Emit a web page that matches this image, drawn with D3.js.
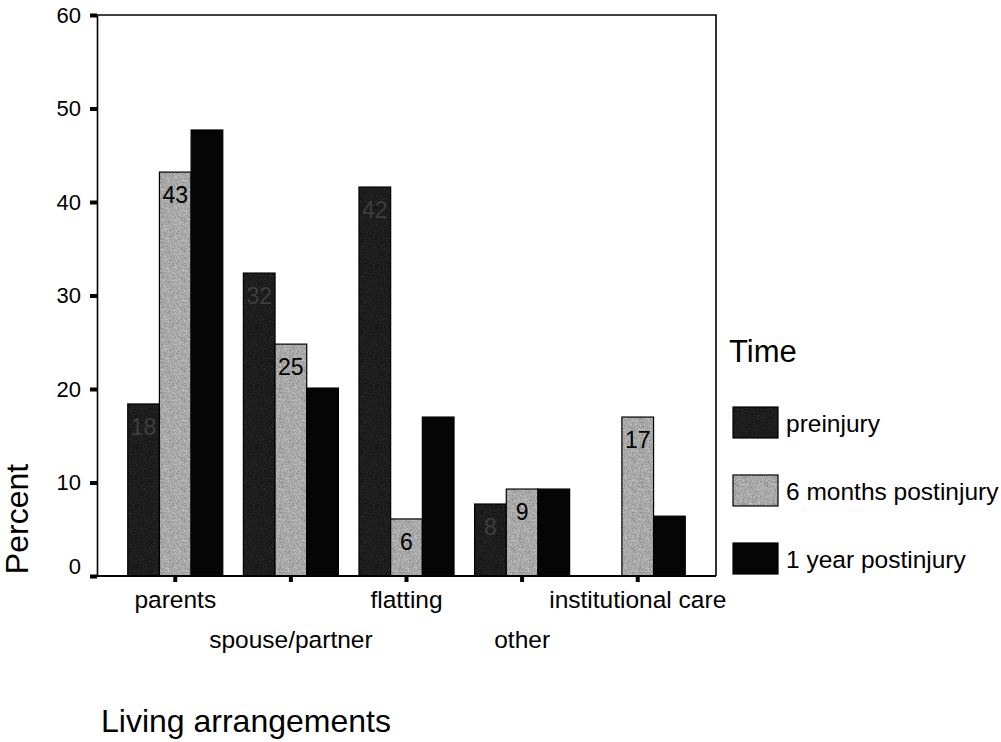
<!DOCTYPE html>
<html>
<head>
<meta charset="utf-8">
<script src="https://cdn.jsdelivr.net/npm/d3@7"></script>
<style>
  html, body { margin: 0; padding: 0; background: #fff; }
  svg { display: block; font-family: "Liberation Sans", Arial, Helvetica, sans-serif; }
</style>
</head>
<body>
<svg id="chart" width="1001" height="742"></svg>
<script>
// ---- data ----
const categories = ["parents", "spouse/partner", "flatting", "other", "institutional care"];
const seriesNames = ["preinjury", "6 months postinjury", "1 year postinjury"];
const preinjury = [18.4, 32.4, 41.6, 7.7, 0];
const sixMonths = [43.2, 24.8, 6.1, 9.3, 17.0];
const oneYear   = [47.7, 20.1, 17.0, 9.3, 6.4];
const yTicks = [0, 10, 20, 30, 40, 50, 60];
const seriesValues = [preinjury, sixMonths, oneYear];

// ---- styles ----
const fills = ["#1d1d1d", "#a8a8a8", "#050505"];
const labelFills = ["#3e3e3e", "#000000", null];

const svg = d3.select("#chart");

// textures
const defs = svg.append("defs");
function noisePattern(id, base, spread, seed) {
  const p = defs.append("pattern").attr("id", id).attr("patternUnits", "userSpaceOnUse")
    .attr("width", 30).attr("height", 30);
  p.append("rect").attr("width", 30).attr("height", 30).attr("fill", base);
  let s = seed;
  const rnd = () => { s = (s * 16807) % 2147483647; return (s - 1) / 2147483646; };
  for (let i = 0; i < 30; i++) for (let j = 0; j < 30; j++) {
    if (rnd() < 0.5) continue;
    const v = Math.round(d3.color(base).r + (rnd() - 0.5) * spread);
    const c = Math.max(0, Math.min(255, v));
    p.append("rect").attr("x", j).attr("y", i).attr("width", 1).attr("height", 1)
      .attr("fill", `rgb(${c},${c},${c})`);
  }
  return `url(#${id})`;
}
const patFills = [
  noisePattern("pat0", fills[0], 24, 7),
  noisePattern("pat1", fills[1], 60, 13),
  fills[2]
];

const mLeft = 97, mRight = 716, mTop = 15, mBottom = 576;

const x = d3.scaleBand().domain(categories).range([mLeft, mRight])
  .paddingInner(0.178).paddingOuter(0.266);
const xs = d3.scaleBand().domain(d3.range(seriesNames.length)).range([0, x.bandwidth()]).padding(0);
const y = d3.scaleLinear().domain([0, 60]).range([mBottom, mTop]);

// frame (top and right)
svg.append("path")
  .attr("d", `M${mLeft},${mTop}H${mRight}V${mBottom}`)
  .attr("fill", "none").attr("stroke", "#000").attr("stroke-width", 1.6);

// bars
const data = [];
categories.forEach((c, i) => seriesValues.forEach((vals, s) => data.push({ c, s, v: vals[i] })));

svg.append("g").selectAll("rect").data(data.filter(d => d.v > 0)).join("rect")
  .attr("x", d => x(d.c) + xs(d.s))
  .attr("y", d => y(d.v))
  .attr("width", xs.bandwidth())
  .attr("height", d => y(0) - y(d.v))
  .attr("fill", d => patFills[d.s])
  .attr("stroke", "#000").attr("stroke-width", 1.2);

// value labels (labels on the black series are invisible in the original)
svg.append("g").selectAll("text").data(data.filter(d => d.v > 0 && labelFills[d.s])).join("text")
  .attr("x", d => x(d.c) + xs(d.s) + xs.bandwidth() / 2)
  .attr("y", d => y(d.v) + 31)
  .attr("text-anchor", "middle")
  .attr("font-size", 23)
  .attr("fill", d => labelFills[d.s])
  .text(d => Math.round(d.v));

// y axis
const yAxis = d3.axisLeft(y).tickValues(yTicks).tickSize(0).tickPadding(16);
const yg = svg.append("g").attr("transform", `translate(${mLeft},0)`).call(yAxis);
yg.select(".domain").attr("stroke", "#000").attr("stroke-width", 1.6);
yg.selectAll(".tick text").attr("font-size", 22).attr("fill", "#000")
  .attr("font-family", "'Liberation Sans', Arial, sans-serif")
  .attr("dy", d => d === 0 ? "-0.12em" : "0.34em");
yg.selectAll(".tick").append("rect")
  .attr("x", -7).attr("y", -2).attr("width", 7).attr("height", 4).attr("fill", "#000");

// x axis
const xAxis = d3.axisBottom(x).tickSize(0).tickPadding(0);
const xg = svg.append("g").attr("transform", `translate(0,${mBottom})`).call(xAxis);
xg.select(".domain").remove();
xg.append("line").attr("x1", mLeft - 7).attr("x2", mRight).attr("y1", 0).attr("y2", 0)
  .attr("stroke", "#000").attr("stroke-width", 1.8);
xg.selectAll(".tick").append("rect")
  .attr("x", -2).attr("y", 0).attr("width", 4).attr("height", 6).attr("fill", "#000");
xg.selectAll(".tick text")
  .attr("font-size", 24.5).attr("fill", "#000")
  .attr("font-family", "'Liberation Sans', Arial, sans-serif")
  .attr("dy", null)
  .attr("y", (d, i) => i % 2 === 0 ? 32 : 72);

// axis titles
svg.append("text").attr("transform", "translate(28,519) rotate(-90)")
  .attr("text-anchor", "middle").attr("font-size", 32).text("Percent");
svg.append("text").attr("x", 101).attr("y", 732)
  .attr("font-size", 32).text("Living arrangements");

// legend
const lg = svg.append("g");
lg.append("text").attr("x", 729).attr("y", 362).attr("font-size", 31).text("Time");
const legendY = [407, 475, 543];
const items = lg.selectAll("g.item").data(seriesNames).join("g").attr("class", "item")
  .attr("transform", (d, i) => `translate(733,${legendY[i]})`);
items.append("rect").attr("width", 45).attr("height", 31)
  .attr("fill", (d, i) => patFills[i]).attr("stroke", "#000").attr("stroke-width", 1.2);
items.append("text").attr("x", 53).attr("y", 25).attr("font-size", 24.5).text(d => d);
</script>
</body>
</html>
